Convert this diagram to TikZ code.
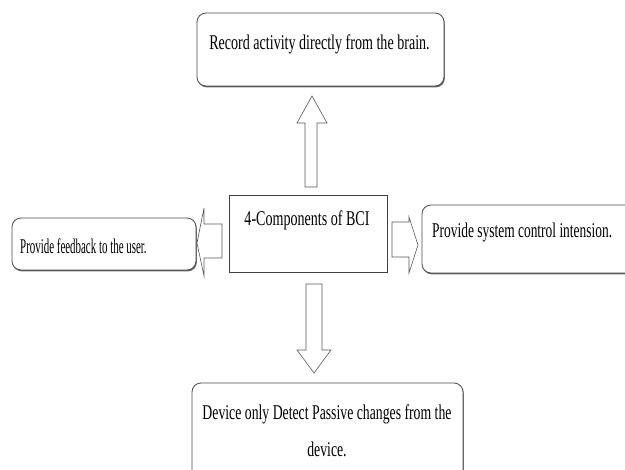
\documentclass[tikz,border=0pt]{standalone}
\usepackage{fontspec}
\setmainfont{Liberation Serif}
\newfontfamily\narrowserif[FakeStretch=0.64]{Liberation Serif}
\newfontfamily\midserif[FakeStretch=0.655]{Liberation Serif}
\newfontfamily\wideserif[FakeStretch=0.67]{Liberation Serif}
\newfontfamily\tighterserif[FakeStretch=0.52]{Liberation Serif}
\usetikzlibrary{shadows}
\begin{document}
\begin{tikzpicture}[x=1pt,y=-1pt,
  roundbox/.style={draw=black!70, line width=0.8pt, rounded corners=9pt, fill=white,
    drop shadow={shadow xshift=0.8pt, shadow yshift=-1.4pt, fill=black!60, opacity=1}},
  squarebox/.style={draw=black!75, line width=0.9pt, fill=white},
  blockarrow/.style={draw=black!65, line width=0.6pt, fill=white, line join=miter},
  lbl/.style={font=\narrowserif\fontsize{21}{37}\selectfont, text=black, align=center, inner sep=0pt},
  midlbl/.style={lbl, font=\midserif\fontsize{21}{37}\selectfont},
  widelbl/.style={lbl, font=\wideserif\fontsize{21}{37}\selectfont},
  tightlbl/.style={lbl, font=\tighterserif\fontsize{21}{37}\selectfont}
]
\useasboundingbox (0,0) rectangle (625,470);

% boxes
\node[roundbox, minimum width=247pt, minimum height=73pt] (rec) at (320.5,49.5) {};
\node[widelbl] (rect) at (319.5,44) {Record activity directly from the brain.};

\node[squarebox, minimum width=158pt, minimum height=77pt] (bci) at (308,233.5) {};
\node[widelbl] (bcit) at (307,220) {4-Components of BCI};

\node[roundbox, minimum width=184pt, minimum height=52pt] (fb) at (104,244) {};
\node[tightlbl, anchor=west] (fbt) at (20,246) {Provide feedback to the user.};

\node[roundbox, minimum width=218pt, minimum height=68pt] (ctl) at (531,239) {};
\node[lbl, anchor=west] (ctlt) at (432,232) {Provide system control intension.};

\node[roundbox, minimum width=271pt, minimum height=107pt] (dev) at (327.5,436.5) {};
\node[midlbl] (devt) at (327,431) {Device only Detect Passive changes from the\\device.};

% block arrows from the central box
\draw[blockarrow] (305,187) -- (305,123) -- (297,123) -- (312,96) -- (327,123) -- (317,123) -- (317,187) -- cycle;
\draw[blockarrow] (306,284) -- (306,350) -- (297,350) -- (314,373) -- (331,350) -- (322,350) -- (322,284) -- cycle;
\draw[blockarrow] (222,224) -- (204,224) -- (204,208) -- (197,243) -- (204,276) -- (204,258) -- (222,258) -- cycle;
\draw[blockarrow] (392,222) -- (409,222) -- (409,217) -- (418,245) -- (409,273) -- (409,257) -- (392,257) -- cycle;
\end{tikzpicture}
\end{document}
